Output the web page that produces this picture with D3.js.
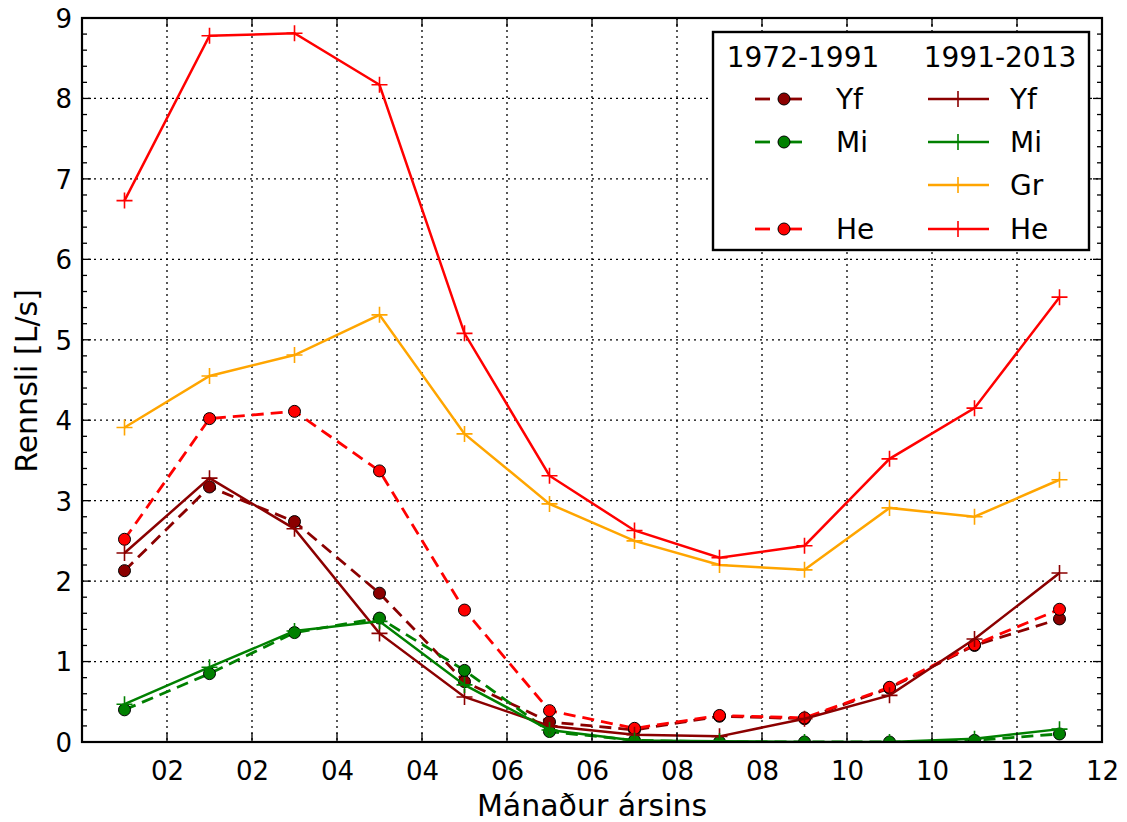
<!DOCTYPE html>
<html>
<head>
<meta charset="utf-8">
<script src="https://cdn.jsdelivr.net/npm/d3@7"></script>
<style>
  html, body { margin: 0; padding: 0; background: #fff; }
  svg { display: block; font-family: "DejaVu Sans", sans-serif; }
</style>
</head>
<body>
<svg id="chart" width="1127" height="822"></svg>
<script>
// ---- data ----
const monthPos = [0.5, 1.5, 2.5, 3.5, 4.5, 5.5, 6.5, 7.5, 8.5, 9.5, 10.5, 11.5];
const xTickValues = [1, 2, 3, 4, 5, 6, 7, 8, 9, 10, 11, 12];
const xTickLabels = ["02", "02", "04", "04", "06", "06", "08", "08", "10", "10", "12", "12"];
const yTickValues = [0, 1, 2, 3, 4, 5, 6, 7, 8, 9];

const yf7291 = [2.13, 3.17, 2.74, 1.85, 0.75, 0.25, 0.15, 0.32, 0.29, 0.67, 1.20, 1.53];
const mi7291 = [0.40, 0.85, 1.36, 1.54, 0.89, 0.13, 0.02, 0.00, 0.00, 0.00, 0.02, 0.10];
const he7291 = [2.52, 4.02, 4.11, 3.37, 1.64, 0.39, 0.17, 0.33, 0.30, 0.68, 1.21, 1.65];

const yf9113 = [2.35, 3.28, 2.65, 1.35, 0.56, 0.20, 0.09, 0.07, 0.29, 0.58, 1.28, 2.10];
const mi9113 = [0.47, 0.93, 1.38, 1.50, 0.71, 0.15, 0.02, 0.01, 0.00, 0.00, 0.04, 0.16];
const gr9113 = [3.91, 4.55, 4.81, 5.31, 3.83, 2.96, 2.50, 2.20, 2.14, 2.91, 2.80, 3.26];
const he9113 = [6.73, 8.78, 8.81, 8.17, 5.08, 3.31, 2.63, 2.29, 2.44, 3.52, 4.15, 5.53];

const periodLabels = ["1972-1991", "1991-2013"];
const seriesNames = ["Yf", "Mi", "Gr", "He"];
const xTitle = "Mánaður ársins";
const yTitle = "Rennsli [L/s]";

// ---- layout ----
const L = 82, R = 1102, T = 18, B = 742;
const svg = d3.select("#chart");
const x = d3.scaleLinear().domain([0, 12]).range([L, R]);
const y = d3.scaleLinear().domain([0, 9]).range([B, T]);

const colors = { Yf: "#8b0000", Mi: "#008000", Gr: "#ffa500", He: "#ff0000" };

svg.append("defs").append("clipPath").attr("id", "clip")
  .append("rect").attr("x", L).attr("y", T).attr("width", R - L).attr("height", B - T);

// grid
const grid = svg.append("g");
grid.selectAll(".gx").data(xTickValues.slice(0, -1)).join("line")
  .attr("x1", d => x(d)).attr("x2", d => x(d)).attr("y1", T).attr("y2", B)
  .attr("stroke", "#000").attr("stroke-width", 1.3).attr("stroke-dasharray", "2,4");
grid.selectAll(".gy").data(yTickValues.slice(1, -1)).join("line")
  .attr("y1", d => y(d)).attr("y2", d => y(d)).attr("x1", L).attr("x2", R)
  .attr("stroke", "#000").attr("stroke-width", 1.3).attr("stroke-dasharray", "2,4");

// series
const plot = svg.append("g").attr("clip-path", "url(#clip)");
const line = d3.line().x((d, i) => x(monthPos[i])).y(d => y(d));

function dashedSeries(vals, col) {
  plot.append("path").datum(vals).attr("d", line)
    .attr("fill", "none").attr("stroke", col).attr("stroke-width", 2.8)
    .attr("stroke-dasharray", "12,7");
  plot.append("g").selectAll("circle").data(vals).join("circle")
    .attr("cx", (d, i) => x(monthPos[i])).attr("cy", d => y(d)).attr("r", 6)
    .attr("fill", col).attr("stroke", "#000").attr("stroke-width", 1);
}
function plusPath(cx, cy, s) {
  return `M${cx - s},${cy}H${cx + s}M${cx},${cy - s}V${cy + s}`;
}
function solidSeries(vals, col) {
  plot.append("path").datum(vals).attr("d", line)
    .attr("fill", "none").attr("stroke", col).attr("stroke-width", 2.5);
  plot.append("g").selectAll("path").data(vals).join("path")
    .attr("d", (d, i) => plusPath(x(monthPos[i]), y(d), 8))
    .attr("fill", "none").attr("stroke", col).attr("stroke-width", 1.6);
}

dashedSeries(yf7291, colors.Yf);
dashedSeries(mi7291, colors.Mi);
dashedSeries(he7291, colors.He);
solidSeries(yf9113, colors.Yf);
solidSeries(mi9113, colors.Mi);
solidSeries(gr9113, colors.Gr);
solidSeries(he9113, colors.He);

// axes frame
svg.append("rect").attr("x", L).attr("y", T).attr("width", R - L).attr("height", B - T)
  .attr("fill", "none").attr("stroke", "#000").attr("stroke-width", 2.2);

// ticks (inward on all sides)
const tk = svg.append("g").attr("stroke", "#000").attr("stroke-width", 1.3);
xTickValues.slice(0, -1).forEach(v => {
  tk.append("line").attr("x1", x(v)).attr("x2", x(v)).attr("y1", B).attr("y2", B - 9);
  tk.append("line").attr("x1", x(v)).attr("x2", x(v)).attr("y1", T).attr("y2", T + 9);
});
const yMinor = d3.range(0, 9.001, 0.2);
yMinor.forEach(v => {
  const major = Math.abs(v - Math.round(v)) < 1e-6;
  const len = major ? 9 : 5;
  tk.append("line").attr("y1", y(v)).attr("y2", y(v)).attr("x1", L).attr("x2", L + len);
  tk.append("line").attr("y1", y(v)).attr("y2", y(v)).attr("x1", R).attr("x2", R - len);
});

// tick labels via axes
const xAxis = d3.axisBottom(x).tickValues(xTickValues).tickSize(0).tickPadding(0)
  .tickFormat((d, i) => xTickLabels[i]);
const gx = svg.append("g").attr("transform", `translate(0,${B})`).call(xAxis);
gx.select(".domain").remove();
gx.selectAll("text").attr("font-size", 26).attr("fill", "#000")
  .attr("font-family", "DejaVu Sans").attr("dy", null).attr("y", 38);

const yAxis = d3.axisLeft(y).tickValues(yTickValues).tickSize(0).tickPadding(10)
  .tickFormat(d3.format("d"));
const gy = svg.append("g").attr("transform", `translate(${L},0)`).call(yAxis);
gy.select(".domain").remove();
gy.selectAll("text").attr("font-size", 26).attr("fill", "#000")
  .attr("font-family", "DejaVu Sans").attr("dy", "0.36em");

// axis titles
svg.append("text").attr("x", (L + R) / 2).attr("y", 816).attr("text-anchor", "middle")
  .attr("font-size", 30).text(xTitle);
svg.append("text").attr("transform", "translate(37,381) rotate(-90)").attr("text-anchor", "middle")
  .attr("font-size", 30).text(yTitle);

// legend
const lg = svg.append("g");
lg.append("rect").attr("x", 713).attr("y", 32).attr("width", 376).attr("height", 218)
  .attr("fill", "#fff").attr("stroke", "#000").attr("stroke-width", 2.4);
lg.append("text").attr("x", 803).attr("y", 67).attr("text-anchor", "middle")
  .attr("font-size", 28).text(periodLabels[0]);
lg.append("text").attr("x", 1000).attr("y", 67).attr("text-anchor", "middle")
  .attr("font-size", 28).text(periodLabels[1]);
const rowY = { Yf: 99, Mi: 142, Gr: 185, He: 229 };
const leftRows = ["Yf", "Mi", "He"];
leftRows.forEach(n => {
  const ry = rowY[n], c = colors[n];
  lg.append("line").attr("x1", 755).attr("x2", 770).attr("y1", ry).attr("y2", ry)
    .attr("stroke", c).attr("stroke-width", 2.8);
  lg.append("line").attr("x1", 778).attr("x2", 802).attr("y1", ry).attr("y2", ry)
    .attr("stroke", c).attr("stroke-width", 2.8);
  lg.append("circle").attr("cx", 784).attr("cy", ry).attr("r", 6)
    .attr("fill", c).attr("stroke", "#000").attr("stroke-width", 1);
  lg.append("text").attr("x", 836).attr("y", ry + 10).attr("font-size", 28).text(n);
});
seriesNames.forEach(n => {
  const ry = rowY[n], c = colors[n];
  lg.append("line").attr("x1", 928).attr("x2", 989).attr("y1", ry).attr("y2", ry)
    .attr("stroke", c).attr("stroke-width", 2.5);
  lg.append("path").attr("d", plusPath(958, ry, 8)).attr("stroke", c)
    .attr("stroke-width", 1.6).attr("fill", "none");
  lg.append("text").attr("x", 1010).attr("y", ry + 10).attr("font-size", 28).text(n);
});
</script>
</body>
</html>
